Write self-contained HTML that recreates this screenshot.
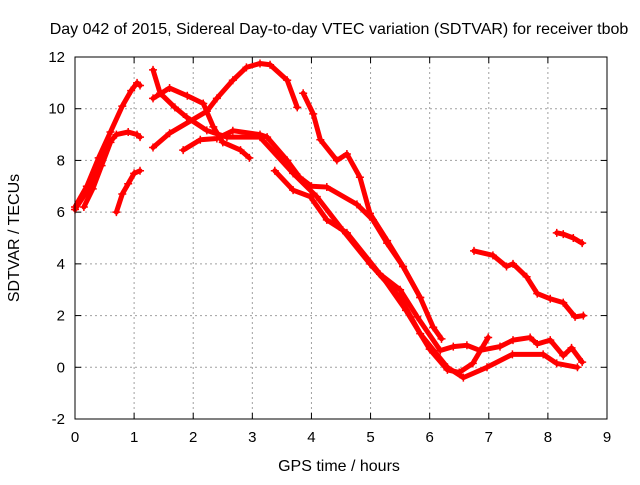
<!DOCTYPE html>
<html><head><meta charset="utf-8"><style>
html,body{margin:0;padding:0;background:#fff}
svg text{font-family:"Liberation Sans",sans-serif;font-size:15px;fill:#000}
svg text.big{font-size:16px}
</style></head><body>
<svg id="chart" width="640" height="480" xmlns="http://www.w3.org/2000/svg">
<text class="big" x="339" y="34" text-anchor="middle">Day 042 of 2015, Sidereal Day-to-day VTEC variation (SDTVAR) for receiver tbob</text>
<text class="big" x="339" y="471" text-anchor="middle">GPS time / hours</text>
<text class="big" transform="translate(19,238) rotate(-90)" text-anchor="middle">SDTVAR / TECUs</text>
<g id="grid"></g><g id="ticks"></g><g id="series"></g>
<rect x="75" y="57" width="532" height="362" fill="none" stroke="#000" stroke-width="1"/>
</svg>
<script>
const xTicks=[0,1,2,3,4,5,6,7,8,9];
const yTicks=[-2,0,2,4,6,8,10,12];
const sA=[[0,6.2],[0.2,7.0],[0.4,8.1],[0.6,9.1],[0.8,10.1],[0.95,10.7],[1.05,11.0],[1.1,10.9]];
const sB=[[0,6.1],[0.2,6.8],[0.4,7.8],[0.55,8.6],[0.7,9.0],[0.9,9.1],[1.05,9.0],[1.1,8.9]];
const sB2=[[0.15,6.2],[0.3,6.9],[0.45,7.8],[0.6,8.7]];
const sC=[[0.7,6.0],[0.8,6.7],[0.9,7.1],[1.0,7.5],[1.1,7.6]];
const sD=[[1.32,11.5],[1.44,10.6],[1.69,10.05],[1.89,9.67],[2.23,9.16],[2.57,8.9],[3.13,8.9],[3.69,7.5],[4.09,6.6],[4.53,5.3],[4.99,4.0],[5.5,2.7],[5.84,1.3],[6.3,0],[6.57,-0.4],[6.97,0],[7.4,0.5],[7.92,0.5],[8.15,0.15],[8.5,0]];
const sE=[[1.32,10.4],[1.6,10.8],[1.9,10.5],[2.17,10.2],[2.34,9.3],[2.5,8.7],[2.8,8.4],[2.95,8.1]];
const sF=[[1.32,8.5],[1.6,9.05],[2.23,9.9],[2.4,10.4],[2.67,11.1],[2.9,11.6],[3.13,11.75],[3.3,11.7],[3.59,11.1],[3.76,10.05]];
const sG=[[1.83,8.4],[2.12,8.8],[2.4,8.85],[2.67,9.15],[3.13,9.0],[3.25,8.9],[3.59,8.0],[3.8,7.35],[4.0,7.0],[4.26,6.97],[4.77,6.3],[5.04,5.7],[5.28,4.8],[5.55,3.9],[5.84,2.7],[6.06,1.55],[6.2,1.1]];
const sL=[[3.38,7.6],[3.69,6.85],[3.98,6.6],[4.26,5.7],[4.6,5.2],[5.16,3.6],[5.5,3.0],[5.79,1.95],[6.18,0.65],[6.4,0.8],[6.63,0.85],[6.85,0.65],[7.19,0.8],[7.41,1.05],[7.7,1.15],[7.82,0.9],[8.04,1.05],[8.26,0.45],[8.4,0.75],[8.58,0.2]];
const sH=[[3.86,10.6],[4.03,9.8],[4.15,8.8],[4.43,8.0],[4.6,8.25],[4.82,7.35],[4.99,5.95],[5.28,4.9],[5.55,3.9],[5.84,2.7]];
const sI=[[5.2,3.5],[5.6,2.2],[6.0,0.7],[6.3,-0.1],[6.5,-0.2],[6.73,0.15],[6.99,1.15]];
const sJ=[[6.75,4.5],[7.07,4.33],[7.3,3.9],[7.41,4.0],[7.64,3.5],[7.82,2.85],[8.04,2.65],[8.26,2.5],[8.46,1.95],[8.6,2.0]];
const sK=[[8.15,5.2],[8.26,5.15],[8.43,5.0],[8.58,4.8]];
const seriesList=[sA,sB,sB2,sC,sD,sE,sF,sG,sL,sH,sI,sJ,sK];
const NS="http://www.w3.org/2000/svg";
const X0=75,X1=607,Y0=419,Y1=57;
const xs=v=>X0+(v-0)/9*(X1-X0);
const ys=v=>Y0-(v+2)/14*(Y0-Y1);
const grid=document.getElementById('grid'),ticks=document.getElementById('ticks'),ser=document.getElementById('series');
function mk(t,a,p){const e=document.createElementNS(NS,t);for(const k in a)e.setAttribute(k,a[k]);p.appendChild(e);return e;}
xTicks.forEach(v=>{const x=xs(v);
 if(v>0&&v<9){const g=mk('line',{x1:x,x2:x,y1:Y1,y2:Y0,stroke:'#a0a0a0','stroke-dasharray':'2,3'},grid);
 
 }
 mk('line',{x1:x,x2:x,y1:Y0,y2:Y0-6,stroke:'#000'},ticks);mk('line',{x1:x,x2:x,y1:Y1,y2:Y1+6,stroke:'#000'},ticks);
 const t=mk('text',{x:x,y:Y0+23,'text-anchor':'middle'},ticks);t.textContent=v;
 
 });
yTicks.forEach(v=>{const y=ys(v);
 if(v>-2&&v<12){const g=mk('line',{x1:X0,x2:X1,y1:y,y2:y,stroke:'#a0a0a0','stroke-dasharray':'2,3'},grid);
 
 }
 mk('line',{x1:X0,x2:X0+6,y1:y,y2:y,stroke:'#000'},ticks);mk('line',{x1:X1,x2:X1-6,y1:y,y2:y,stroke:'#000'},ticks);
 const t=mk('text',{x:X0-10,y:y+5,'text-anchor':'end'},ticks);t.textContent=v;
 
 });
seriesList.forEach((s,i)=>{
 const g=mk('g',{},ser);
 
 
 mk('polyline',{points:s.map(p=>xs(p[0])+','+ys(p[1])).join(' '),fill:'none',stroke:'#ff0000','stroke-width':5,'stroke-linejoin':'round','stroke-linecap':'round'},g);
 s.forEach(p=>{const x=xs(p[0]),y=ys(p[1]);
  const m=mk('path',{d:`M${x-4},${y}H${x+4}M${x},${y-4}V${y+4}`,stroke:'#ff0000','stroke-width':1.5},g);
  
  });
});
</script>
</body></html>
